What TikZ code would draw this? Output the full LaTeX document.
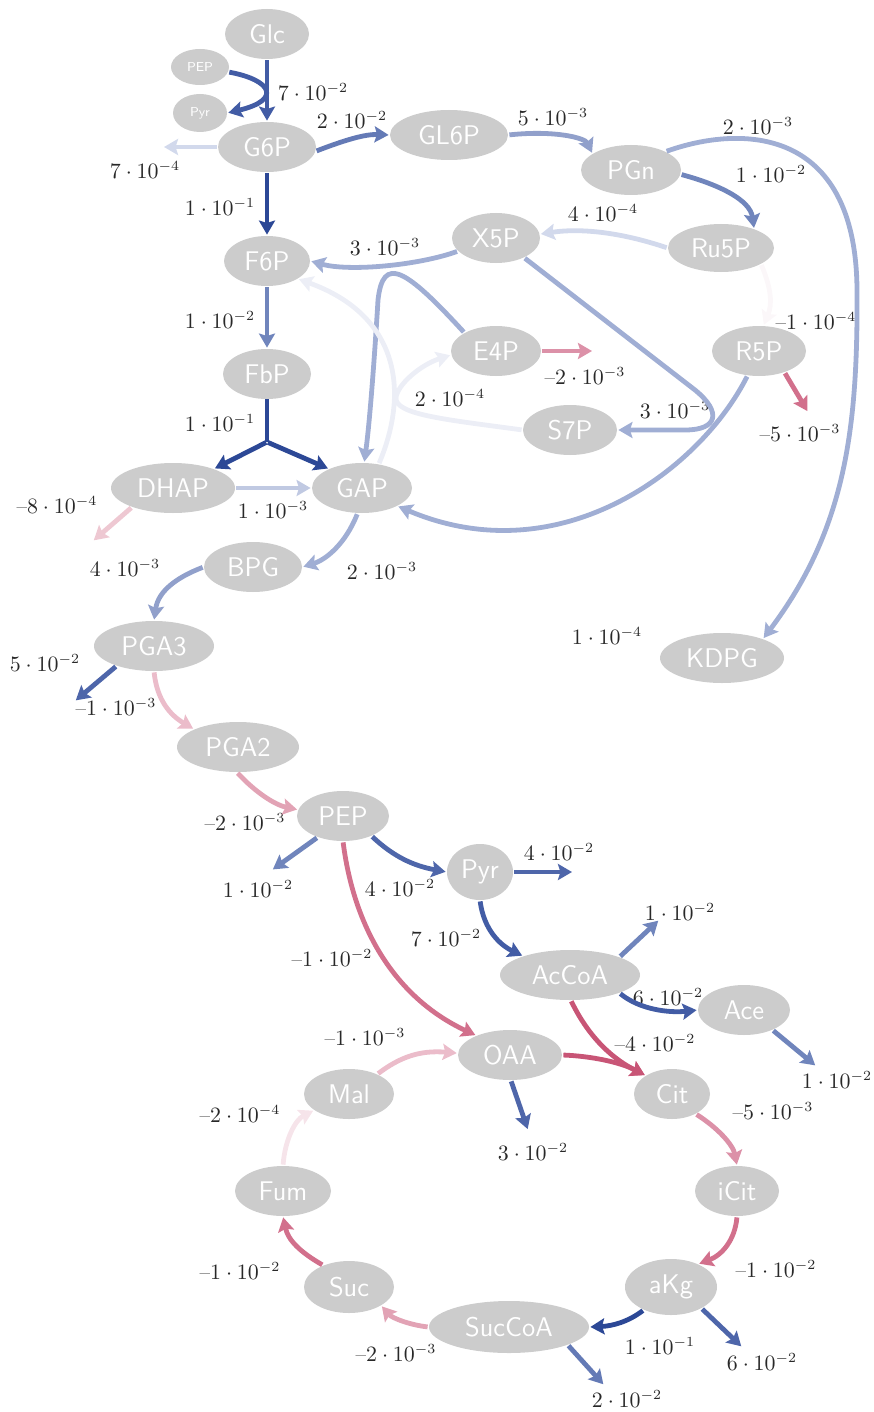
\documentclass[tikz,border=0pt]{standalone}
\usepackage{fontspec}
\usetikzlibrary{shapes.geometric,arrows.meta}
\definecolor{ngray}{RGB}{204,204,204}
\definecolor{labc}{RGB}{40,40,40}
\definecolor{cBa}{RGB}{44,72,150}
\definecolor{cBb}{RGB}{66,92,165}
\definecolor{cBc}{RGB}{78,102,170}
\definecolor{cBd}{RGB}{100,122,182}
\definecolor{cBe}{RGB}{112,133,188}
\definecolor{cBf}{RGB}{145,160,203}
\definecolor{cBg}{RGB}{160,174,212}
\definecolor{cBh}{RGB}{192,201,226}
\definecolor{cBi}{RGB}{210,217,236}
\definecolor{cBj}{RGB}{236,238,246}
\definecolor{cRa}{RGB}{200,85,118}
\definecolor{cRb}{RGB}{210,112,140}
\definecolor{cRc}{RGB}{220,145,168}
\definecolor{cRd}{RGB}{226,163,181}
\definecolor{cRe}{RGB}{235,188,202}
\definecolor{cRf}{RGB}{238,200,210}
\definecolor{cRg}{RGB}{246,228,234}
\definecolor{cRh}{RGB}{251,247,249}
\newcommand\nm{\mbox{--}}
\begin{document}
\begin{tikzpicture}[x=0.5pt,y=-0.5pt,
  met/.style={ellipse, fill=ngray, text=white, font=\fontsize{13.5}{14}\selectfont\sffamily, inner sep=0pt, minimum height=25pt},
  smet/.style={ellipse, fill=ngray, text=white, font=\fontsize{6.5}{7}\selectfont\sffamily, inner sep=0pt, minimum height=18pt},
  lab/.style={font=\fontsize{10.5}{12}\selectfont, text=labc, inner sep=0pt},
  flux/.style={line width=2.4pt, line join=round, -{Stealth[length=7pt,width=8pt,inset=1.2pt]}, shorten >=0.5pt, shorten <=0.5pt}]
\useasboundingbox (0,0) rectangle (873,1412);
% nodes
\node[met, minimum width=42pt] (Glc) at (267,34) {Glc};
\node[smet, minimum width=29pt] (sPEP) at (200,67) {PEP};
\node[smet, minimum width=27pt, minimum height=19pt] (sPyr) at (200,113) {Pyr};
\node[met, minimum width=49pt] (G6P) at (267,147) {G6P};
\node[met, minimum width=59pt] (GL6P) at (449,135) {GL6P};
\node[met, minimum width=50pt] (PGn) at (631,170) {PGn};
\node[met, minimum width=44pt] (X5P) at (496,238) {X5P};
\node[met, minimum width=53pt, minimum height=24pt] (Ru5P) at (721,248) {Ru5P};
\node[met, minimum width=43pt] (F6P) at (267,261) {F6P};
\node[met, minimum width=44pt] (FbP) at (267,374) {FbP};
\node[met, minimum width=45pt] (E4P) at (496,351) {E4P};
\node[met, minimum width=47pt] (R5P) at (759,351) {R5P};
\node[met, minimum width=47pt] (S7P) at (570,430) {S7P};
\node[met, minimum width=62pt] (DHAP) at (173,488) {DHAP};
\node[met, minimum width=50pt] (GAP) at (362,488) {GAP};
\node[met, minimum width=49pt] (BPG) at (253,567) {BPG};
\node[met, minimum width=62pt] (KDPG) at (722,658) {KDPG};
\node[met, minimum width=60pt] (PGA3) at (154,646) {PGA3};
\node[met, minimum width=61pt] (PGA2) at (238,747) {PGA2};
\node[met, minimum width=46pt] (PEP) at (343,816) {PEP};
\node[met, minimum width=33pt, minimum height=28pt] (Pyr) at (480,872) {Pyr};
\node[met, minimum width=70pt] (AcCoA) at (570,975) {AcCoA};
\node[met, minimum width=46pt] (Ace) at (744,1010) {Ace};
\node[met, minimum width=52pt] (OAA) at (510,1055) {OAA};
\node[met, minimum width=38pt] (Cit) at (672,1094) {Cit};
\node[met, minimum width=45pt] (Mal) at (349,1094) {Mal};
\node[met, minimum width=42pt] (iCit) at (737,1191) {iCit};
\node[met, minimum width=48pt] (Fum) at (283,1191) {Fum};
\node[met, minimum width=46pt, minimum height=28pt] (aKg) at (671,1287) {aKg};
\node[met, minimum width=45pt, minimum height=26pt] (Suc) at (349,1287) {Suc};
\node[met, minimum width=80pt, minimum height=26pt] (SucCoA) at (509,1327) {SucCoA};
% labels
\node[lab] (l1) at (313,92) {$7\cdot10^{-2}$};
\node[lab] (l2) at (352,120) {$2\cdot10^{-2}$};
\node[lab] (l3) at (145,170) {$7\cdot10^{-4}$};
\node[lab] (l4) at (220,207) {$1\cdot10^{-1}$};
\node[lab] (l5) at (553,117) {$5\cdot10^{-3}$};
\node[lab] (l6) at (758,126) {$2\cdot10^{-3}$};
\node[lab] (l7) at (771,174) {$1\cdot10^{-2}$};
\node[lab] (l8) at (603,213) {$4\cdot10^{-4}$};
\node[lab] (l9) at (385,247) {$3\cdot10^{-3}$};
\node[lab] (l10) at (220,320) {$1\cdot10^{-2}$};
\node[lab] (l11) at (816,321) {$\nm1\cdot10^{-4}$};
\node[lab] (l12) at (585,376) {$\nm2\cdot10^{-3}$};
\node[lab] (l13) at (450,398) {$2\cdot10^{-4}$};
\node[lab] (l14) at (675,410) {$3\cdot10^{-3}$};
\node[lab] (l15) at (800,433) {$\nm5\cdot10^{-3}$};
\node[lab] (l16) at (220,423) {$1\cdot10^{-1}$};
\node[lab] (l17) at (57,505) {$\nm8\cdot10^{-4}$};
\node[lab] (l18) at (273,510) {$1\cdot10^{-3}$};
\node[lab] (l19) at (125,568) {$4\cdot10^{-3}$};
\node[lab] (l20) at (382,571) {$2\cdot10^{-3}$};
\node[lab] (l21) at (607,636) {$1\cdot10^{-4}$};
\node[lab] (l22) at (45,663) {$5\cdot10^{-2}$};
\node[lab] (l23) at (116,707) {$\nm1\cdot10^{-3}$};
\node[lab] (l24) at (245,822) {$\nm2\cdot10^{-3}$};
\node[lab] (l25) at (559,852) {$4\cdot10^{-2}$};
\node[lab] (l26) at (258,889) {$1\cdot10^{-2}$};
\node[lab] (l27) at (400,888) {$4\cdot10^{-2}$};
\node[lab] (l28) at (680,912) {$1\cdot10^{-2}$};
\node[lab] (l29) at (446,938) {$7\cdot10^{-2}$};
\node[lab] (l30) at (332,958) {$\nm1\cdot10^{-2}$};
\node[lab] (l31) at (668,997) {$6\cdot10^{-2}$};
\node[lab] (l32) at (655,1043) {$\nm4\cdot10^{-2}$};
\node[lab] (l33) at (365,1037) {$\nm1\cdot10^{-3}$};
\node[lab] (l34) at (837,1080) {$1\cdot10^{-2}$};
\node[lab] (l35) at (773,1111) {$\nm5\cdot10^{-3}$};
\node[lab] (l36) at (240,1114) {$\nm2\cdot10^{-4}$};
\node[lab] (l37) at (533,1152) {$3\cdot10^{-2}$};
\node[lab] (l38) at (776,1269) {$\nm1\cdot10^{-2}$};
\node[lab] (l39) at (240,1271) {$\nm1\cdot10^{-2}$};
\node[lab] (l40) at (660,1346) {$1\cdot10^{-1}$};
\node[lab] (l41) at (396,1353) {$\nm2\cdot10^{-3}$};
\node[lab] (l42) at (762,1362) {$6\cdot10^{-2}$};
\node[lab] (l43) at (627,1399) {$2\cdot10^{-2}$};
% free ends
\coordinate (oG6P) at (163,147);
\coordinate (oE4P) at (593,351);
\coordinate (oR5P) at (808,412);
\coordinate (j1) at (267,442);
\coordinate (oDHAP) at (93,541);
\coordinate (oPGA3) at (75,701);
\coordinate (oPEP) at (272,870);
\coordinate (oPyr) at (573,872);
\coordinate (oAcCoA) at (659,920);
\coordinate (oAce) at (816,1066);
\coordinate (oOAA) at (528,1130);
\coordinate (oaKg) at (742,1347);
\coordinate (oSucCoA) at (604,1385);
% edges
\draw[flux,cBb] (Glc.south) -- (G6P.north);
\draw[flux,cBb] (sPEP.-10) .. controls (272,80) and (282,100) .. (sPyr.east);
\draw[flux,cBd] (G6P.-5) .. controls (345,140) and (365,134) .. (GL6P.west);
\draw[flux,cBi] (G6P.west) -- (oG6P);
\draw[flux,cBa] (G6P.south) -- (F6P.north);
\draw[flux,cBf] (GL6P.east) .. controls (555,130) and (585,138) .. (PGn.157);
\draw[flux,cBe] (PGn.-5) .. controls (720,185) and (750,200) .. (Ru5P.30);
\draw[flux,cBg] (PGn.28) .. controls (740,125) and (856,125) .. (857,290) .. controls (858,430) and (845,530) .. (KDPG.25);
\draw[flux,cBi] (Ru5P.west) .. controls (620,232) and (580,228) .. (X5P.5);
\draw[flux,cRh] (Ru5P.-22) .. controls (772,290) and (772,305) .. (R5P.80);
\draw[flux,cBg] (X5P.199) .. controls (420,265) and (350,272) .. (F6P.east);
\draw[flux,cBg] (E4P.150) .. controls (405,268) and (383,255) .. (378,300) .. controls (375,350) and (370,420) .. (GAP.85);
\draw[flux,cBg] (X5P.-35) -- (695,390) .. controls (722,412) and (718,430) .. (685,430) -- (S7P.east);
\draw[flux,cBj] (S7P.west) .. controls (450,420) and (395,415) .. (396,398) .. controls (397,385) and (420,365) .. (E4P.185);
\draw[flux,cBj] (GAP.55) .. controls (410,390) and (398,315) .. (F6P.-30);
\draw[flux,cRc] (E4P.east) -- (oE4P);
\draw[flux,cBg] (R5P.245) .. controls (700,470) and (560,575) .. (GAP.-27);
\draw[flux,cRb] (R5P.-40) -- (oR5P);
\draw[flux,cBe] (F6P.south) -- (FbP.north);
\draw[cBa, line width=2.4pt] (FbP.south) -- (j1);
\draw[flux,cBa] (j1) -- (DHAP.25);
\draw[flux,cBa] (j1) -- (GAP.150);
\draw[flux,cBh] (DHAP.east) -- (GAP.west);
\draw[flux,cRf] (DHAP.205) -- (oDHAP);
\draw[flux,cBg] (GAP.-100) .. controls (345,545) and (325,560) .. (BPG.east);
\draw[flux,cBf] (BPG.west) .. controls (175,578) and (158,592) .. (PGA3.north);
\draw[flux,cBc] (PGA3.208) -- (oPGA3);
\draw[flux,cRe] (PGA3.south) .. controls (157,700) and (170,715) .. (PGA2.158);
\draw[flux,cRd] (PGA2.-92) .. controls (255,792) and (275,805) .. (PEP.172);
\draw[flux,cBe] (PEP.220) -- (oPEP);
\draw[flux,cBc] (PEP.-35) .. controls (395,858) and (415,866) .. (Pyr.west);
\draw[flux,cRb] (PEP.-90) .. controls (355,935) and (400,1000) .. (OAA.150);
\draw[flux,cBc] (Pyr.east) -- (oPyr);
\draw[flux,cBb] (Pyr.south) .. controls (484,930) and (500,945) .. (AcCoA.158);
\draw[flux,cBe] (AcCoA.20) -- (oAcCoA);
\draw[flux,cBb] (AcCoA.-20) .. controls (640,1010) and (670,1013) .. (Ace.west);
\draw[flux,cRa] (AcCoA.-88) .. controls (590,1040) and (615,1060) .. (Cit.145);
\draw[flux,cRa] (OAA.east) .. controls (590,1056) and (620,1062) .. (Cit.145);
\draw[flux,cBe] (Ace.-35) -- (oAce);
\draw[flux,cBc] (OAA.-88) -- (oOAA);
\draw[flux,cRe] (Mal.35) .. controls (400,1057) and (420,1050) .. (OAA.178);
\draw[flux,cRg] (Fum.north) .. controls (285,1140) and (295,1120) .. (Mal.205);
\draw[flux,cRb] (Suc.140) .. controls (300,1252) and (288,1240) .. (Fum.south);
\draw[flux,cRd] (SucCoA.west) .. controls (410,1325) and (392,1318) .. (Suc.-30);
\draw[flux,cBa] (aKg.220) .. controls (628,1322) and (612,1326) .. (SucCoA.east);
\draw[flux,cBc] (aKg.-35) -- (oaKg);
\draw[flux,cBd] (SucCoA.-17) -- (oSucCoA);
\draw[flux,cRc] (Cit.-40) .. controls (718,1128) and (733,1145) .. (iCit.north);
\draw[flux,cRb] (iCit.south) .. controls (735,1240) and (722,1255) .. (aKg.40);
\end{tikzpicture}
\end{document}
